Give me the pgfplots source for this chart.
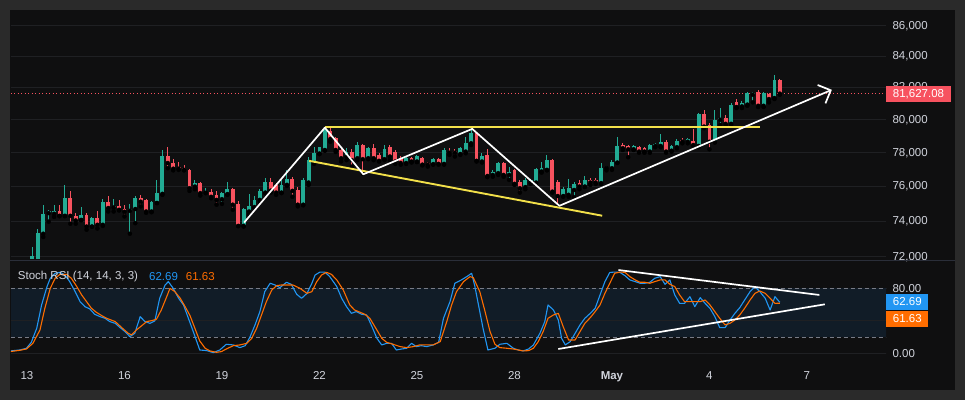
\documentclass[border=0pt]{standalone}
\usepackage{pgfplots}
\pgfplotsset{compat=1.18}
\usepackage{pgfplotstable}
\usepackage{fontspec}
\setmainfont{Liberation Sans}
\usetikzlibrary{arrows.meta}
\definecolor{outerc}{HTML}{2A2A2A}
\definecolor{panel}{HTML}{0F0F10}
\definecolor{gridc}{HTML}{1F2023}
\definecolor{up}{HTML}{22AB94}
\definecolor{down}{HTML}{F7525F}
\definecolor{kblue}{HTML}{2196F3}
\definecolor{dorange}{HTML}{FF6D00}
\definecolor{band}{HTML}{111C27}
\definecolor{dashc}{HTML}{787B86}
\definecolor{txt}{HTML}{D1D4DC}
\definecolor{ylw}{HTML}{F2E04A}
\definecolor{sepc}{HTML}{2A2E39}

% 4-hour candles, k = bars since 13 Apr 00:00
\pgfplotstableread{
k o h l c
1 71720 72560 71550 72060
2 71720 73570 71610 73350
3 73290 74950 73110 74430
4 74470 74660 73980 74560
5 74430 74950 74250 74620
6 74600 74950 74290 74310
7 74310 76100 74290 75330
8 75330 75750 73860 74310
9 74310 74480 73860 74040
10 74080 74830 74060 74370
11 74370 74480 73520 73700
12 73700 74250 73690 74180
13 74180 74560 73590 73800
14 73800 75270 73740 75080
15 75080 75430 74560 74760
16 74790 75290 74560 74890
17 74890 75190 74620 74660
18 74710 74950 74270 74540
19 74600 75000 73290 74710
20 74700 75430 73890 75330
21 75330 75520 74850 75120
22 75190 75290 74480 74560
23 74560 75140 74520 75080
24 75060 76400 75040 75640
25 75580 78180 75520 77840
26 77840 78380 77090 77390
27 77420 77620 76950 77050
28 77130 77450 76990 77050
29 77090 77290 76950 76990
30 76990 77030 75750 75910
31 76000 76400 75850 76200
32 76200 76300 75480 75620
33 75640 75910 75620 75700
34 75700 75850 75330 75410
35 75520 75770 74950 75230
36 75270 75710 75000 75650
37 75560 76300 75520 75850
38 75850 75910 74660 74950
39 75000 75140 73720 73740
40 73740 74760 73700 74700
41 74560 75560 74370 74850
42 74810 75430 74760 75230
43 75230 75850 75140 75750
44 75650 76500 75620 76300
45 76300 76530 75650 75770
46 76100 76200 75520 75650
47 75650 76400 75620 76100
48 76100 76990 76040 76440
49 76440 76590 75410 75750
50 75810 76000 74850 74950
51 74950 76500 74910 76400
52 76240 77780 76100 77580
53 77400 78380 77340 78010
54 77960 78380 77920 78340
55 78180 79580 78130 79450
56 79330 79500 78680 78850
57 78890 78990 78060 78180
58 78180 78380 77480 77680
59 77760 78280 77570 78070
60 78070 78220 77180 77570
61 77680 78680 77570 78480
62 78440 78540 76750 77620
63 77680 78380 77620 78320
64 78320 78540 77570 77680
65 77880 77980 77480 77530
66 77620 78480 77570 78220
67 78380 78480 77570 77780
68 78070 78180 77340 77480
69 77720 77820 77290 77390
70 77390 77780 77340 77720
71 77680 77740 77420 77480
72 77480 77880 77450 77820
73 77720 77780 77250 77290
74 77420 77480 77180 77290
75 77330 77680 77290 77640
76 77620 77680 77290 77340
77 77340 78280 77290 78180
78 78130 78280 77880 78010
79 78130 78220 77780 78010
80 77940 78380 77880 78280
81 78070 78990 77980 78580
82 78580 79500 78480 79190
83 79190 79290 77480 77520
84 77480 77980 77420 77820
85 77880 78220 76560 76630
86 76690 76950 76590 76890
87 76790 77480 76690 77390
88 77390 77480 76590 76690
89 76690 77180 76400 76890
90 76950 77030 76100 76160
91 76300 76400 75650 75910
92 75970 76500 75850 76400
93 76240 76460 76160 76400
94 76240 77090 76160 77030
95 76890 77480 76830 77090
96 76990 77880 76950 77580
97 77580 77620 75650 75710
98 76300 76400 74890 75450
99 75450 76000 75410 75850
100 75520 76440 75410 75910
101 75810 76300 75380 76160
102 76240 76400 75850 76000
103 76000 76630 75970 76400
104 76400 76500 76100 76240
105 76400 76500 76160 76240
106 76200 77420 76160 77090
107 77090 77230 76950 77180
108 77090 77580 76990 77480
109 77420 78990 77390 78420
110 78440 78620 78180 78280
111 78420 78440 77740 78220
112 78220 78480 78180 78420
113 78340 78420 78010 78070
114 78280 78380 78010 78070
115 78070 78540 78010 78480
116 78420 78620 78340 78540
117 78420 79150 78340 78680
118 78680 78780 78010 78070
119 78130 78480 78070 78420
120 78340 78850 78280 78720
121 78780 78890 78580 78680
122 78680 78890 78580 78830
123 78740 79440 78420 78480
124 78420 80420 78340 80370
125 80370 80580 79500 79600
126 79700 79800 78220 78680
127 78680 80580 78620 80000
128 80000 80730 79700 80110
129 80110 80310 79700 79760
130 79760 81040 79700 80890
131 81080 81290 80730 80790
132 80830 81140 80730 81040
133 80940 81760 80870 81660
134 81560 81760 81080 81660
135 81760 81830 80790 80870
136 80870 81740 80790 81660
137 81600 81660 81080 81290
138 81350 82820 81290 82460
139 82500 82550 81560 81627.08
}\candles

\pgfplotstableread{
k v
-3.1 2.9
-1.3 4.1
-0.1 6.2
0.8 13.5
1.8 30.8
2.7 59.5
3.7 82.1
4.3 92.3
5.2 98.5
6.1 99.7
7.0 96.4
7.9 88.2
8.9 75.9
9.8 63.6
10.7 57.4
11.6 54.6
12.5 48.0
13.5 45.1
14.4 43.1
15.3 39.0
16.3 36.9
17.2 31.6
18.1 26.7
19.0 20.5
19.9 24.6
20.9 45.1
21.8 39.0
22.7 36.9
23.6 39.8
24.5 67.7
25.5 84.1
26.1 88.2
27.0 80.0
28.0 67.7
28.9 59.5
29.8 43.1
30.7 26.7
31.9 4.1
33.2 3.3
34.4 0.8
35.6 4.1
36.8 11.1
38.1 10.3
39.3 7.0
40.3 9.4
41.2 20.5
42.1 34.9
43.0 51.3
43.9 75.9
44.9 86.2
45.8 84.1
46.7 80.8
47.9 87.4
48.8 84.9
49.8 72.6
50.7 67.7
51.7 73.8
52.6 86.2
53.2 96.4
54.1 100.0
55.0 100.0
55.9 94.4
57.2 82.1
58.1 67.7
59.0 57.4
59.9 49.2
60.8 51.3
61.8 48.0
62.7 47.2
63.7 32.8
64.6 18.5
65.5 10.3
66.4 12.3
67.3 12.3
68.2 4.1
69.2 5.3
70.1 6.2
71.0 12.3
71.9 8.2
72.8 9.4
73.8 8.2
75.0 10.3
76.0 13.5
76.9 43.1
78.1 63.6
79.0 86.2
80.2 90.3
81.2 94.4
82.1 98.5
82.7 82.1
83.6 51.3
84.2 30.8
85.1 4.1
86.4 6.2
87.3 11.1
88.6 12.3
89.8 6.2
90.7 4.1
91.6 2.9
92.6 5.3
93.5 10.3
94.7 24.6
95.6 39.0
96.2 59.5
97.2 53.3
98.1 41.0
98.7 18.5
99.4 10.3
100.3 14.4
101.2 24.6
102.1 34.9
103.0 43.1
104.0 49.2
104.9 55.4
105.8 71.8
106.7 88.2
107.6 99.5
108.5 100.0
109.5 99.5
110.4 95.6
111.3 90.3
112.3 88.2
113.2 86.2
114.1 86.2
115.0 87.4
115.9 92.3
116.9 94.4
117.8 84.9
118.7 90.3
119.6 71.8
120.5 61.5
121.4 61.5
122.4 69.7
123.3 57.4
124.3 68.5
125.2 61.5
126.1 55.4
127.0 45.1
127.9 31.6
128.9 31.6
129.8 41.0
130.7 49.2
131.6 56.2
132.5 65.6
133.5 75.9
134.4 82.1
135.3 75.9
136.3 67.7
137.2 53.3
138.1 69.7
139.0 62.69
}\stochK

\pgfplotstableread{
k v
-3.1 2.1
-1.3 3.7
-0.1 5.3
1.1 12.3
2.4 28.7
3.3 55.4
4.3 80.0
5.2 92.3
6.1 97.2
7.3 97.2
8.2 92.3
9.2 82.1
10.1 71.8
11.0 63.6
11.9 55.4
12.8 50.5
13.8 46.4
14.7 43.1
16.3 39.0
17.5 31.6
18.7 24.6
19.3 22.6
20.2 28.7
21.2 34.1
22.1 39.0
23.0 40.2
23.9 41.8
24.8 53.3
25.8 69.7
26.4 80.0
27.3 75.9
28.3 67.7
29.2 57.4
30.1 46.4
31.0 30.8
31.9 15.2
32.9 6.2
33.8 2.9
35.0 1.2
35.9 2.1
36.8 5.3
38.1 9.4
39.3 10.3
40.6 12.3
41.5 18.5
42.4 30.8
43.3 47.2
44.2 63.6
45.2 77.9
46.1 83.3
47.0 84.1
47.9 84.1
49.1 84.1
50.4 80.0
51.7 73.8
52.6 75.9
53.5 88.2
54.4 96.4
55.3 99.7
56.2 97.2
57.2 90.3
58.4 77.9
59.6 59.5
60.5 53.3
61.5 50.5
62.4 48.0
63.3 43.1
64.6 28.7
65.5 18.5
66.4 13.5
67.6 11.1
68.9 8.2
70.1 7.0
71.3 8.2
72.5 10.3
73.8 10.3
75.0 10.3
76.3 14.4
77.5 39.0
78.4 59.5
79.3 75.9
80.6 88.2
81.8 94.4
82.4 93.1
83.6 75.9
84.5 53.3
85.5 26.7
86.4 11.1
87.3 7.0
88.6 6.2
89.8 5.3
90.7 4.1
91.6 2.9
92.6 3.3
93.5 6.2
94.4 14.4
95.3 26.7
96.2 43.1
97.2 47.2
98.1 49.2
99.0 32.8
100.0 16.4
101.2 16.4
102.1 26.7
103.0 36.9
104.0 43.9
104.9 51.3
105.8 59.5
106.7 73.8
107.6 86.2
108.5 98.5
109.5 100.0
110.4 99.7
111.3 94.4
112.3 90.3
113.2 87.4
114.1 87.4
115.0 86.2
115.9 88.2
116.9 90.3
117.8 90.3
118.7 84.9
119.6 82.1
120.5 71.8
121.4 63.6
122.4 63.6
123.3 63.6
124.3 63.6
125.2 65.6
126.1 59.5
127.0 51.3
127.9 43.1
128.9 34.9
129.8 36.9
130.7 41.0
131.6 47.2
132.5 55.4
133.5 65.6
134.4 73.8
135.3 76.7
136.3 73.8
137.2 67.7
138.1 61.5
139.0 61.63
}\stochD

\begin{document}
\begin{tikzpicture}[x=1pt,y=1pt]
\fill[outerc] (0,0) rectangle (965,400);
\fill[panel] (10,10) rectangle (955,390);

\begin{axis}[
  at={(11pt,141pt)}, anchor=south west, scale only axis,
  width=875pt, height=249pt,
  xmin=-2.95, xmax=158.6,
  ymode=log, ymin=71889, ymax=87066,
  axis line style={draw=none}, major tick length=0pt,
  xtick=\empty,
  ytick={72000,74000,76000,78000,80000,82000,84000,86000},
  yticklabels={{72,000},{74,000},{76,000},{78,000},{80,000},{82,000},{84,000},{86,000}},
  yticklabel pos=right,
  yticklabel style={anchor=west, xshift=3pt, text=txt, font=\fontsize{11.5}{13}\selectfont},
  ymajorgrids, major grid style={gridc, line width=0.8pt},
]
\addplot[down, line width=1pt, dash pattern=on 1.2pt off 2.3pt, forget plot] coordinates {(-3,81627.08) (160,81627.08)};
% wicks
\addplot[only marks, mark=none, forget plot,
  restrict expr to domain={\thisrow{c}-\thisrow{o}}{0:100000},
  error bars/.cd, y dir=plus, y explicit, error mark=none,
  error bar style={up, line width=1pt}]
  table[x=k, y=l, y error expr=\thisrow{h}-\thisrow{l}] {\candles};
\addplot[only marks, mark=none, forget plot,
  restrict expr to domain={\thisrow{c}-\thisrow{o}}{-100000:-0.001},
  error bars/.cd, y dir=plus, y explicit, error mark=none,
  error bar style={down, line width=1pt}]
  table[x=k, y=l, y error expr=\thisrow{h}-\thisrow{l}] {\candles};
% bodies
\addplot[only marks, mark=none, forget plot,
  restrict expr to domain={\thisrow{c}-\thisrow{o}}{0:100000},
  error bars/.cd, y dir=plus, y explicit, error mark=none,
  error bar style={up, line width=3.8pt, line cap=butt}]
  table[x=k, y=o, y error expr=\thisrow{c}-\thisrow{o}] {\candles};
\addplot[only marks, mark=none, forget plot,
  restrict expr to domain={\thisrow{c}-\thisrow{o}}{-100000:-0.001},
  error bars/.cd, y dir=plus, y explicit, error mark=none,
  error bar style={down, line width=3.8pt, line cap=butt}]
  table[x=k, y=c, y error expr=\thisrow{o}-\thisrow{c}] {\candles};
\end{axis}

% drawings on top of the candles
\begin{axis}[
  at={(11pt,141pt)}, anchor=south west, scale only axis,
  width=875pt, height=249pt,
  xmin=-2.95, xmax=158.6,
  ymode=log, ymin=71889, ymax=87066,
  hide axis,
]
\addplot[ylw, line width=1.9pt] coordinates {(55.0,79550) (135.3,79550)};
\addplot[ylw, line width=1.9pt] coordinates {(52.1,77521) (106.2,74311)};
\addplot[white, line width=1.7pt, line join=round, -{Straight Barb[length=10pt,width=20pt]}]
  coordinates {(40.1,73930) (55.0,79530) (62.1,76730) (82.2,79450) (98.3,74890) (148.6,81870)};
\end{axis}

\begin{axis}[
  at={(11pt,35pt)}, anchor=south west, scale only axis,
  width=875pt, height=104pt,
  xmin=-2.95, xmax=158.6, ymin=-14.4, ymax=113.6,
  axis line style={draw=none}, major tick length=0pt,
  xtick={0,18,36,54,72,90,108,126,144},
  xticklabels={13,16,19,22,25,28,\textbf{May},4,7},
  xticklabel style={text=txt, font=\fontsize{11.5}{13}\selectfont, yshift=-3pt},
  ytick={0,80}, yticklabels={0.00,80.00},
  yticklabel pos=right,
  yticklabel style={anchor=west, xshift=3pt, text=txt, font=\fontsize{11.5}{13}\selectfont},
]
\addplot[draw=none, fill=band, forget plot] coordinates {(-3,20) (160,20) (160,80) (-3,80)} -- cycle;
\addplot[gridc, line width=0.8pt, forget plot] coordinates {(-3,0) (160,0)};
\addplot[gridc, line width=0.8pt, forget plot] coordinates {(-3,40) (160,40)};
\addplot[dashc, line width=0.8pt, dash pattern=on 4pt off 3pt, forget plot] coordinates {(-3,80) (160,80)};
\addplot[dashc, line width=0.8pt, dash pattern=on 4pt off 3pt, forget plot] coordinates {(-3,20) (160,20)};
\addplot[kblue, line width=1.1pt, line join=round] table[x=k, y=v] {\stochK};
\addplot[dorange, line width=1.1pt, line join=round] table[x=k, y=v] {\stochD};
\addplot[white, line width=1.7pt] coordinates {(109.2,102.5) (146.3,71.8)};
\addplot[white, line width=1.7pt] coordinates {(98.1,5.3) (147.3,60.3)};
\end{axis}

\draw[sepc, line width=1pt] (10,140) -- (955,140);
\begin{scope}[every node/.style={inner sep=0pt, anchor=west, font=\fontsize{11.5}{13}\selectfont}]
\node[text=txt] at (17.7,123) {Stoch RSI (14, 14, 3, 3)};
\node[text=kblue] at (149,123) {62.69};
\node[text=dorange] at (185.7,123) {61.63};
\fill[down] (886,298) rectangle (951,314);
\node[text=white] at (892.7,306) {81,627.08};
\fill[kblue] (886,90) rectangle (928,106);
\node[text=white] at (892.7,98) {62.69};
\fill[dorange] (886,73) rectangle (928,89);
\node[text=white] at (892.7,81) {61.63};
\end{scope}
\pgfresetboundingbox
\path[use as bounding box] (0,0) rectangle (965,400);
\end{tikzpicture}
\end{document}
